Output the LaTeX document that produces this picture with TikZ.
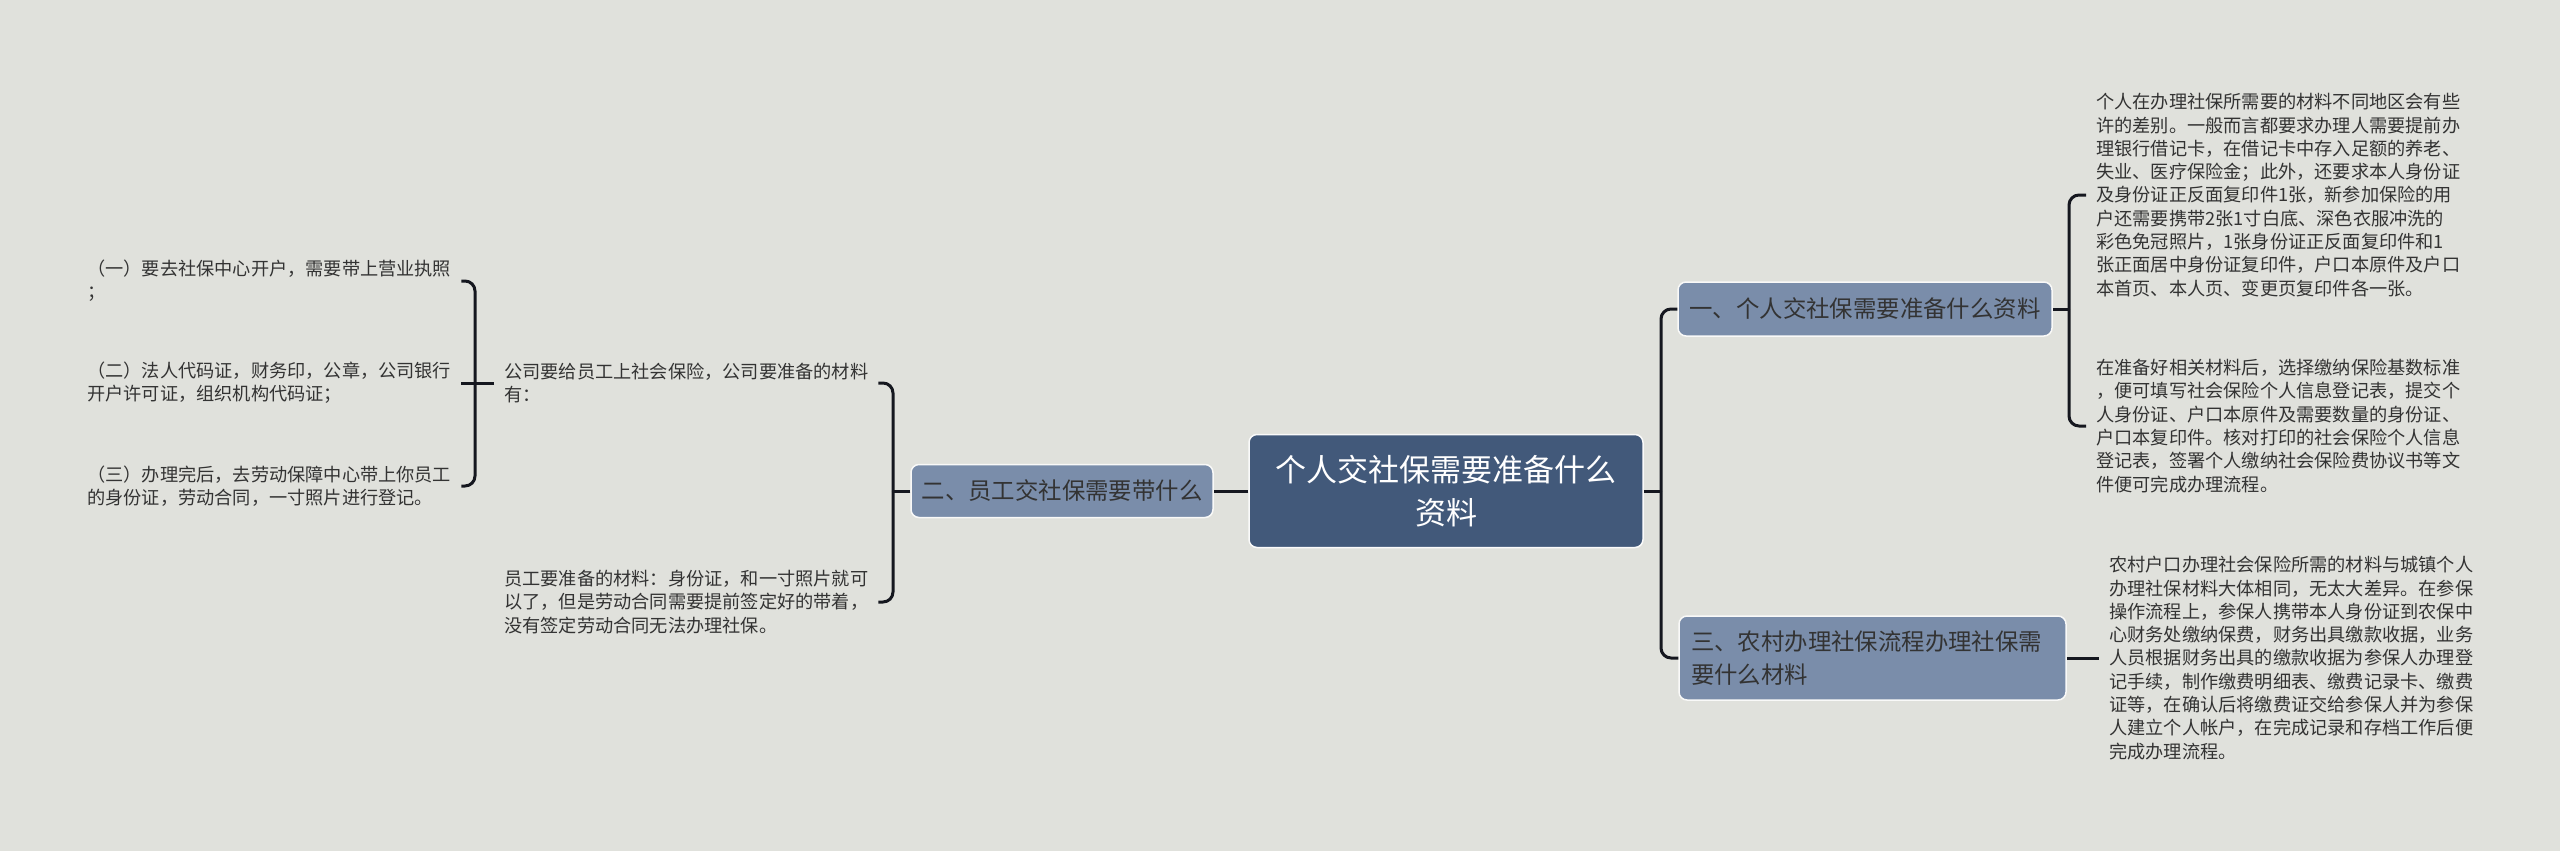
\documentclass[tikz,border=0pt]{standalone}
\usepackage{fontspec}
\setmainfont{Noto Sans CJK SC}
\definecolor{bgc}{HTML}{E0E1DC}
\definecolor{rootc}{HTML}{42597A}
\definecolor{boxc}{HTML}{7A8DAA}
\definecolor{linec}{HTML}{15171F}
\definecolor{txtc}{HTML}{333333}
\begin{document}
\begin{tikzpicture}[x=1pt,y=-1pt,
  conn/.style={draw=linec,line width=3pt,rounded corners=10pt},
  rootbox/.style={fill=rootc,draw=white!85!bgc,line width=1.5pt,rounded corners=8pt,text=white,
    minimum width=394pt,minimum height=113pt,align=center,inner sep=0pt,
    font={\fontsize{31}{43}\selectfont}},
  topicbox/.style={fill=boxc,draw=white!80!bgc,line width=1.5pt,rounded corners=8pt,text=txtc,
    inner sep=0pt,align=left,font={\fontsize{23.4}{33}\selectfont}},
  leaf/.style={text=txtc,align=left,inner xsep=10pt,inner ysep=0pt,anchor=west,
    font={\fontsize{18.2}{23.3}\selectfont}}
]
\fill[bgc] (0,0) rectangle (2560,851);
\useasboundingbox (0,0) rectangle (2560,851);

% root
\node[rootbox] (root) at (1446,491) {个人交社保需要准备什么\\资料};

% topics
\node[topicbox,minimum width=374pt,minimum height=54pt] (b1) at (1865,309) {一、个人交社保需要准备什么资料};
\node[topicbox,minimum width=302pt,minimum height=53pt] (b2) at (1062,491) {二、员工交社保需要带什么};
\node[topicbox,minimum width=387pt,minimum height=84pt,text width=363pt] (b3) at (1872.5,658) {三、农村办理社保流程办理社保需\\要什么材料};

% right leaves
\node[leaf] (t1) at (2086,195) {个人在办理社保所需要的材料不同地区会有些\\许的差别。一般而言都要求办理人需要提前办\\理银行借记卡，在借记卡中存入足额的养老、\\失业、医疗保险金；此外，还要求本人身份证\\及身份证正反面复印件1张，新参加保险的用\\户还需要携带2张1寸白底、深色衣服冲洗的\\彩色免冠照片，1张身份证正反面复印件和1\\张正面居中身份证复印件，户口本原件及户口\\本首页、本人页、变更页复印件各一张。};
\node[leaf] (t2) at (2086,426) {在准备好相关材料后，选择缴纳保险基数标准\\，便可填写社会保险个人信息登记表，提交个\\人身份证、户口本原件及需要数量的身份证、\\户口本复印件。核对打印的社会保险个人信息\\登记表，签署个人缴纳社会保险费协议书等文\\件便可完成办理流程。};
\node[leaf] (t3) at (2099,658) {农村户口办理社会保险所需的材料与城镇个人\\办理社保材料大体相同，无太大差异。在参保\\操作流程上，参保人携带本人身份证到农保中\\心财务处缴纳保费，财务出具缴款收据，业务\\人员根据财务出具的缴款收据为参保人办理登\\记手续，制作缴费明细表、缴费记录卡、缴费\\证等，在确认后将缴费证交给参保人并为参保\\人建立个人帐户，在完成记录和存档工作后便\\完成办理流程。};

% left leaves
\node[leaf] (ma) at (494,383) {公司要给员工上社会保险，公司要准备的材料\\有：};
\node[leaf] (mb) at (494,602) {员工要准备的材料：身份证，和一寸照片就可\\以了，但是劳动合同需要提前签定好的带着，\\没有签定劳动合同无法办理社保。};
\node[leaf] (l1) at (77,281) {（一）要去社保中心开户，需要带上营业执照\\；};
\node[leaf] (l2) at (77,383) {（二）法人代码证，财务印，公章，公司银行\\开户许可证，组织机构代码证；};
\node[leaf] (l3) at (77,486) {（三）办理完后，去劳动保障中心带上你员工\\的身份证，劳动合同，一寸照片进行登记。};

% junctions
\coordinate (jr) at (1661,491);
\coordinate (j1) at (2069,309);
\coordinate (j2) at (893,491);
\coordinate (ja) at (475,383);

% connectors
\draw[conn] (root.west) -- (b2.east);
\draw[conn] (root.east) -- (jr);
\draw[conn] (b1.west) -| (jr);
\draw[conn] (b3.west) -| (jr);
\draw[conn] (b1.east) -- (j1);
\draw[conn] (t1.west) -| (j1);
\draw[conn] (t2.west) -| (j1);
\draw[conn] (b3.east) -- (b3.east -| t3.west);
\draw[conn] (b2.west) -- (j2);
\draw[conn] (ma.east) -| (j2);
\draw[conn] (mb.east) -| (j2);
\draw[conn] (ma.west) -- (ja);
\draw[conn] (l1.east) -| (ja);
\draw[conn] (l2.east) -- (ja);
\draw[conn] (l3.east) -| (ja);
\end{tikzpicture}
\end{document}
